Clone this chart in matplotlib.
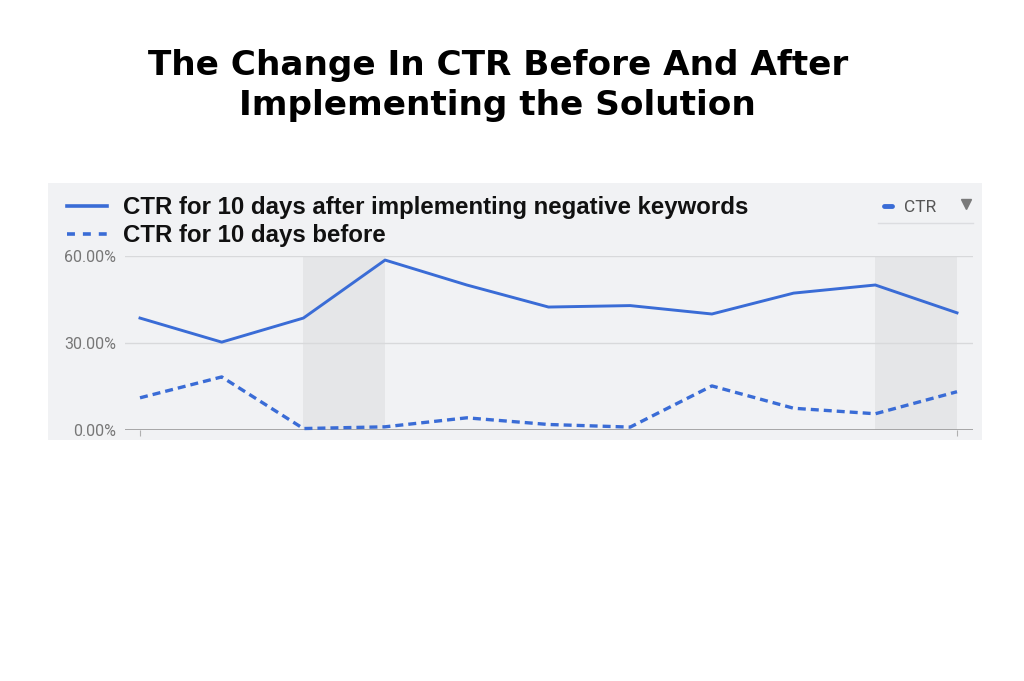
import matplotlib
matplotlib.use("Agg")
from matplotlib import pyplot as plt
from matplotlib.lines import Line2D

W, H = 1024, 681

# CTR in %, one value per day (11 points)
days = list(range(11))
ctr_after = [38.6, 30.3, 38.6, 58.6, 50.0, 42.4, 42.9, 40.0, 47.2, 50.0, 40.4]
ctr_before = [11.1, 18.3, 0.5, 1.1, 4.2, 1.9, 1.0, 15.2, 7.5, 5.6, 13.2]
y_ticks = [0, 30, 60]
y_tick_labels = ["0.00%", "30.00%", "60.00%"]
weekend_spans = [(2, 3), (9, 10)]

BLUE = "#3a6cd6"
PANEL = "#f1f2f4"
SHADE = "#e5e6e8"
GRID = "#d8d9db"


def px(x0, y0, x1, y1):
    """pixel box (top-left origin) -> figure fraction rect"""
    return [x0 / W, 1 - y1 / H, (x1 - x0) / W, (y1 - y0) / H]


fig = plt.figure(figsize=(W / 100, H / 100), dpi=100)

fig.text(0.486, 1 - 85.5 / H, "The Change In CTR Before And After\nImplementing the Solution",
         ha="center", va="center", fontsize=24.7, fontweight="bold",
         family="DejaVu Sans", linespacing=1.3)

# screenshot-like grey panel
bg = fig.add_axes(px(48, 183, 982, 440))
bg.set_facecolor(PANEL)
bg.set_xlim(48, 982)
bg.set_ylim(440, 183)
bg.set_xticks([])
bg.set_yticks([])
for s in bg.spines.values():
    s.set_visible(False)

# little series chip in the upper right
bg.plot([884, 892], [206, 206], color=BLUE, lw=3.5, solid_capstyle="round")
bg.text(904, 207, "CTR", ha="left", va="center", fontsize=12.5, color="#555555",
        family="Roboto")
bg.plot([966], [204], marker="v", ms=7, color="#7a7a7a", ls="none")
bg.plot([878, 973], [223, 223], color="#dcdde0", lw=1)

# plot area
x0, x10 = 140, 957
step = (x10 - x0) / 10
ax = fig.add_axes(px(125, 256, 973, 430))
ax.set_facecolor("none")
ax.set_xlim(-(x0 - 125) / step, 10 + (973 - x10) / step)
ax.set_ylim(0, 60)

for a, b in weekend_spans:
    ax.axvspan(a, b, color=SHADE, lw=0, zorder=0)

for t in y_ticks[1:]:
    ax.axhline(t, color=GRID, lw=1, zorder=1)
ax.axhline(0, color="#9a9a9a", lw=1.2, zorder=1)

after_line, = ax.plot(days, ctr_after, color=BLUE, lw=2.1, zorder=3, clip_on=False)
before_line, = ax.plot(days, ctr_before, color=BLUE, lw=2.4, ls=(0, (2.4, 1.5)),
                       zorder=3, clip_on=False)

ax.set_yticks(y_ticks)
ax.set_yticklabels(y_tick_labels, family="Roboto", fontsize=11.5, color="#777777")
ax.tick_params(axis="y", length=0, pad=6.5)
ax.set_xticks([0, 10])
ax.set_xticklabels([])
ax.tick_params(axis="x", length=4, width=0.8, color="#b0b0b0", direction="out")
for s in ax.spines.values():
    s.set_visible(False)

fig.legend([Line2D([], [], color=BLUE, lw=2.6),
            Line2D([], [], color=BLUE, lw=2.6, ls=(0, (2.2, 2.2)))],
           ["CTR for 10 days after implementing negative keywords",
            "CTR for 10 days before"],
           loc="upper left", bbox_to_anchor=(67 / W, 1 - 196 / H),
           frameon=False, borderpad=0, borderaxespad=0,
           handlelength=1.65, handletextpad=0.7, labelspacing=0.22,
           prop={"family": "Liberation Sans", "weight": "bold", "size": 17.3},
           labelcolor="#111111")

fig.savefig("out.png", dpi=100)
